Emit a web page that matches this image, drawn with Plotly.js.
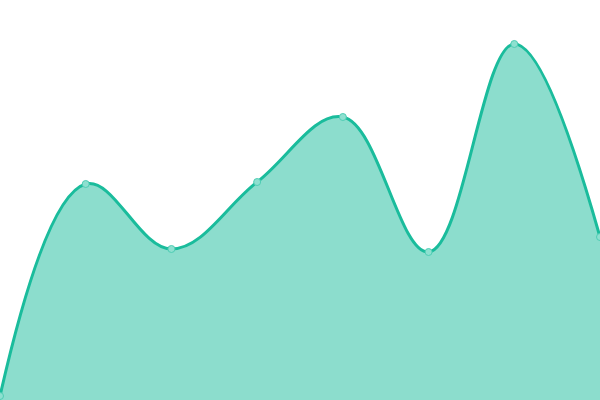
<!DOCTYPE html>
<html>
<head>
<meta charset="utf-8">
<script src="https://cdn.plot.ly/plotly-3.0.1.min.js"></script>
<style>
  html, body { margin: 0; padding: 0; background: #fff; }
  #chart { width: 600px; height: 400px; }
</style>
</head>
<body>
<div id="chart"></div>
<script>
// point index along x (0..400 scale)
const xs = [0, 1, 2, 3, 4, 5, 6, 7];
const values = [4, 216, 151, 218, 283, 148, 356, 163];

const LINE = '#1abc9c';

const area = {
    type: 'scatter', mode: 'lines+markers',
    x: xs, y: values,
    line: { shape: 'spline', smoothing: 1.1, color: LINE, width: 3 },
    fill: 'tozeroy', fillcolor: 'rgba(26,188,156,0.5)',
    marker: { size: 7, color: '#8ee0d0', line: { color: '#4fcdb4', width: 1 } },
    hoverinfo: 'none', showlegend: false, cliponaxis: false
};

const layout = {
    width: 600, height: 400,
    margin: { l: 0, r: 0, t: 0, b: 0 },
    paper_bgcolor: '#fff', plot_bgcolor: '#fff',
    xaxis: { visible: false, range: [0, 7], fixedrange: true },
    yaxis: { visible: false, range: [0, 400], fixedrange: true }
};

Plotly.newPlot('chart', [area], layout, { displayModeBar: false, staticPlot: true });
</script>
</body>
</html>
